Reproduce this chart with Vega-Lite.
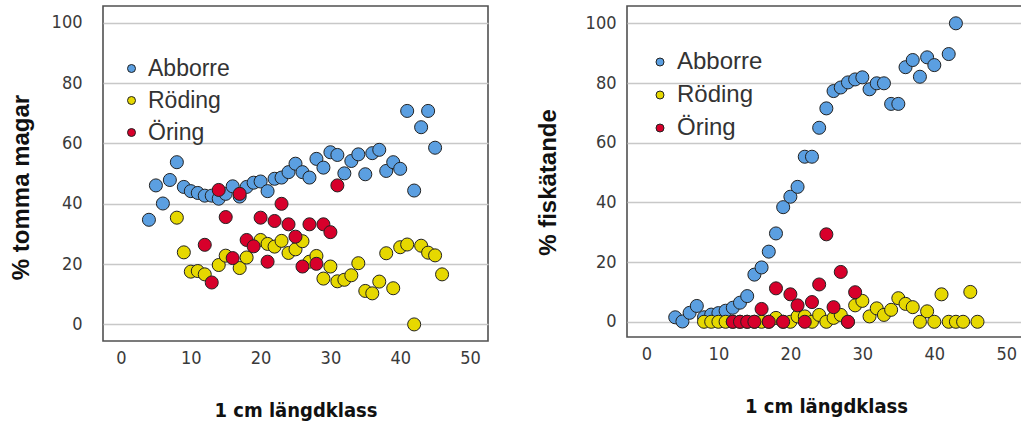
{
  "$schema": "https://vega.github.io/schema/vega-lite/v6.json",
  "background": "white",
  "padding": {"left": 8, "top": 5, "right": 0, "bottom": 0},
  "align": "none",
  "spacing": 46,
  "datasets": {
    "tomma": [
      {"art": "Abborre", "langd": 4, "procent": 34.7},
      {"art": "Abborre", "langd": 5, "procent": 46.1},
      {"art": "Abborre", "langd": 6, "procent": 40.1},
      {"art": "Abborre", "langd": 7, "procent": 47.9},
      {"art": "Abborre", "langd": 8, "procent": 53.8},
      {"art": "Abborre", "langd": 9, "procent": 45.6},
      {"art": "Abborre", "langd": 10, "procent": 44.2},
      {"art": "Abborre", "langd": 11, "procent": 43.6},
      {"art": "Abborre", "langd": 12, "procent": 42.7},
      {"art": "Abborre", "langd": 13, "procent": 42.7},
      {"art": "Abborre", "langd": 14, "procent": 41.7},
      {"art": "Abborre", "langd": 15, "procent": 43.3},
      {"art": "Abborre", "langd": 16, "procent": 45.8},
      {"art": "Abborre", "langd": 17, "procent": 42.4},
      {"art": "Abborre", "langd": 18, "procent": 45.6},
      {"art": "Abborre", "langd": 19, "procent": 47.0},
      {"art": "Abborre", "langd": 20, "procent": 47.4},
      {"art": "Abborre", "langd": 21, "procent": 44.2},
      {"art": "Abborre", "langd": 22, "procent": 48.3},
      {"art": "Abborre", "langd": 23, "procent": 48.7},
      {"art": "Abborre", "langd": 24, "procent": 50.5},
      {"art": "Abborre", "langd": 25, "procent": 53.3},
      {"art": "Abborre", "langd": 26, "procent": 50.5},
      {"art": "Abborre", "langd": 27, "procent": 48.7},
      {"art": "Abborre", "langd": 28, "procent": 54.9},
      {"art": "Abborre", "langd": 29, "procent": 52.0},
      {"art": "Abborre", "langd": 30, "procent": 57.1},
      {"art": "Abborre", "langd": 31, "procent": 56.2},
      {"art": "Abborre", "langd": 32, "procent": 50.1},
      {"art": "Abborre", "langd": 33, "procent": 54.2},
      {"art": "Abborre", "langd": 34, "procent": 56.4},
      {"art": "Abborre", "langd": 35, "procent": 49.8},
      {"art": "Abborre", "langd": 36, "procent": 56.8},
      {"art": "Abborre", "langd": 37, "procent": 57.9},
      {"art": "Abborre", "langd": 38, "procent": 50.9},
      {"art": "Abborre", "langd": 39, "procent": 53.8},
      {"art": "Abborre", "langd": 40, "procent": 51.6},
      {"art": "Abborre", "langd": 41, "procent": 70.8},
      {"art": "Abborre", "langd": 42, "procent": 44.4},
      {"art": "Abborre", "langd": 43, "procent": 65.4},
      {"art": "Abborre", "langd": 44, "procent": 70.8},
      {"art": "Abborre", "langd": 45, "procent": 58.6},
      {"art": "Röding", "langd": 8, "procent": 35.4},
      {"art": "Röding", "langd": 9, "procent": 23.9},
      {"art": "Röding", "langd": 10, "procent": 17.5},
      {"art": "Röding", "langd": 11, "procent": 17.7},
      {"art": "Röding", "langd": 12, "procent": 16.6},
      {"art": "Röding", "langd": 14, "procent": 19.7},
      {"art": "Röding", "langd": 15, "procent": 22.8},
      {"art": "Röding", "langd": 17, "procent": 18.7},
      {"art": "Röding", "langd": 18, "procent": 22.2},
      {"art": "Röding", "langd": 20, "procent": 28.0},
      {"art": "Röding", "langd": 21, "procent": 26.7},
      {"art": "Röding", "langd": 22, "procent": 25.8},
      {"art": "Röding", "langd": 23, "procent": 27.7},
      {"art": "Röding", "langd": 24, "procent": 23.7},
      {"art": "Röding", "langd": 25, "procent": 24.9},
      {"art": "Röding", "langd": 26, "procent": 27.6},
      {"art": "Röding", "langd": 27, "procent": 20.8},
      {"art": "Röding", "langd": 28, "procent": 22.7},
      {"art": "Röding", "langd": 29, "procent": 15.2},
      {"art": "Röding", "langd": 30, "procent": 19.2},
      {"art": "Röding", "langd": 31, "procent": 14.3},
      {"art": "Röding", "langd": 32, "procent": 14.8},
      {"art": "Röding", "langd": 33, "procent": 16.3},
      {"art": "Röding", "langd": 34, "procent": 20.3},
      {"art": "Röding", "langd": 35, "procent": 11.1},
      {"art": "Röding", "langd": 36, "procent": 10.3},
      {"art": "Röding", "langd": 37, "procent": 14.2},
      {"art": "Röding", "langd": 38, "procent": 23.6},
      {"art": "Röding", "langd": 39, "procent": 12.0},
      {"art": "Röding", "langd": 40, "procent": 25.6},
      {"art": "Röding", "langd": 41, "procent": 26.5},
      {"art": "Röding", "langd": 42, "procent": 0},
      {"art": "Röding", "langd": 43, "procent": 26.1},
      {"art": "Röding", "langd": 44, "procent": 23.8},
      {"art": "Röding", "langd": 45, "procent": 22.9},
      {"art": "Röding", "langd": 46, "procent": 16.6},
      {"art": "Öring", "langd": 12, "procent": 26.4},
      {"art": "Öring", "langd": 13, "procent": 13.9},
      {"art": "Öring", "langd": 14, "procent": 44.6},
      {"art": "Öring", "langd": 15, "procent": 35.6},
      {"art": "Öring", "langd": 16, "procent": 22.0},
      {"art": "Öring", "langd": 17, "procent": 43.3},
      {"art": "Öring", "langd": 18, "procent": 28.0},
      {"art": "Öring", "langd": 19, "procent": 25.9},
      {"art": "Öring", "langd": 20, "procent": 35.4},
      {"art": "Öring", "langd": 21, "procent": 20.8},
      {"art": "Öring", "langd": 22, "procent": 34.3},
      {"art": "Öring", "langd": 23, "procent": 40.0},
      {"art": "Öring", "langd": 24, "procent": 33.2},
      {"art": "Öring", "langd": 25, "procent": 29.1},
      {"art": "Öring", "langd": 26, "procent": 19.2},
      {"art": "Öring", "langd": 27, "procent": 33.2},
      {"art": "Öring", "langd": 28, "procent": 20.1},
      {"art": "Öring", "langd": 29, "procent": 33.2},
      {"art": "Öring", "langd": 30, "procent": 30.6},
      {"art": "Öring", "langd": 31, "procent": 46.1}
    ],
    "fisk": [
      {"art": "Abborre", "langd": 4, "procent": 1.5},
      {"art": "Abborre", "langd": 5, "procent": 0.1},
      {"art": "Abborre", "langd": 6, "procent": 3.0},
      {"art": "Abborre", "langd": 7, "procent": 5.3},
      {"art": "Abborre", "langd": 8, "procent": 1.5},
      {"art": "Abborre", "langd": 9, "procent": 2.4},
      {"art": "Abborre", "langd": 10, "procent": 2.9},
      {"art": "Abborre", "langd": 11, "procent": 3.7},
      {"art": "Abborre", "langd": 12, "procent": 4.7},
      {"art": "Abborre", "langd": 13, "procent": 6.4},
      {"art": "Abborre", "langd": 14, "procent": 8.6},
      {"art": "Abborre", "langd": 15, "procent": 15.8},
      {"art": "Abborre", "langd": 16, "procent": 18.2},
      {"art": "Abborre", "langd": 17, "procent": 23.5},
      {"art": "Abborre", "langd": 18, "procent": 29.6},
      {"art": "Abborre", "langd": 19, "procent": 38.4},
      {"art": "Abborre", "langd": 20, "procent": 41.9},
      {"art": "Abborre", "langd": 21, "procent": 45.2},
      {"art": "Abborre", "langd": 22, "procent": 55.3},
      {"art": "Abborre", "langd": 23, "procent": 55.3},
      {"art": "Abborre", "langd": 24, "procent": 65.0},
      {"art": "Abborre", "langd": 25, "procent": 71.5},
      {"art": "Abborre", "langd": 26, "procent": 77.3},
      {"art": "Abborre", "langd": 27, "procent": 78.5},
      {"art": "Abborre", "langd": 28, "procent": 80.2},
      {"art": "Abborre", "langd": 29, "procent": 81.2},
      {"art": "Abborre", "langd": 30, "procent": 81.9},
      {"art": "Abborre", "langd": 31, "procent": 77.9},
      {"art": "Abborre", "langd": 32, "procent": 79.9},
      {"art": "Abborre", "langd": 33, "procent": 79.9},
      {"art": "Abborre", "langd": 34, "procent": 73.0},
      {"art": "Abborre", "langd": 35, "procent": 73.0},
      {"art": "Abborre", "langd": 36, "procent": 85.3},
      {"art": "Abborre", "langd": 37, "procent": 87.7},
      {"art": "Abborre", "langd": 38, "procent": 82.1},
      {"art": "Abborre", "langd": 39, "procent": 88.6},
      {"art": "Abborre", "langd": 40, "procent": 86.0},
      {"art": "Abborre", "langd": 42, "procent": 89.7},
      {"art": "Abborre", "langd": 43, "procent": 100},
      {"art": "Röding", "langd": 8, "procent": 0},
      {"art": "Röding", "langd": 9, "procent": 0},
      {"art": "Röding", "langd": 10, "procent": 0},
      {"art": "Röding", "langd": 11, "procent": 0},
      {"art": "Röding", "langd": 12, "procent": 0},
      {"art": "Röding", "langd": 13, "procent": 0},
      {"art": "Röding", "langd": 14, "procent": 0},
      {"art": "Röding", "langd": 15, "procent": 0},
      {"art": "Röding", "langd": 16, "procent": 0},
      {"art": "Röding", "langd": 17, "procent": 0},
      {"art": "Röding", "langd": 18, "procent": 1.3},
      {"art": "Röding", "langd": 19, "procent": 0},
      {"art": "Röding", "langd": 20, "procent": 0},
      {"art": "Röding", "langd": 21, "procent": 1.8},
      {"art": "Röding", "langd": 22, "procent": 1.8},
      {"art": "Röding", "langd": 23, "procent": 0},
      {"art": "Röding", "langd": 24, "procent": 2.3},
      {"art": "Röding", "langd": 25, "procent": 0},
      {"art": "Röding", "langd": 26, "procent": 1.3},
      {"art": "Röding", "langd": 27, "procent": 2.3},
      {"art": "Röding", "langd": 28, "procent": 0},
      {"art": "Röding", "langd": 29, "procent": 5.5},
      {"art": "Röding", "langd": 30, "procent": 7.0},
      {"art": "Röding", "langd": 31, "procent": 1.8},
      {"art": "Röding", "langd": 32, "procent": 4.5},
      {"art": "Röding", "langd": 33, "procent": 2.3},
      {"art": "Röding", "langd": 34, "procent": 4.0},
      {"art": "Röding", "langd": 35, "procent": 7.9},
      {"art": "Röding", "langd": 36, "procent": 6.0},
      {"art": "Röding", "langd": 37, "procent": 4.9},
      {"art": "Röding", "langd": 38, "procent": 0},
      {"art": "Röding", "langd": 39, "procent": 3.5},
      {"art": "Röding", "langd": 40, "procent": 0},
      {"art": "Röding", "langd": 41, "procent": 9.2},
      {"art": "Röding", "langd": 42, "procent": 0},
      {"art": "Röding", "langd": 43, "procent": 0},
      {"art": "Röding", "langd": 44, "procent": 0},
      {"art": "Röding", "langd": 45, "procent": 10.0},
      {"art": "Röding", "langd": 46, "procent": 0},
      {"art": "Öring", "langd": 12, "procent": 0},
      {"art": "Öring", "langd": 13, "procent": 0},
      {"art": "Öring", "langd": 14, "procent": 0},
      {"art": "Öring", "langd": 15, "procent": 0},
      {"art": "Öring", "langd": 16, "procent": 4.3},
      {"art": "Öring", "langd": 17, "procent": 0},
      {"art": "Öring", "langd": 18, "procent": 11.2},
      {"art": "Öring", "langd": 19, "procent": 0},
      {"art": "Öring", "langd": 20, "procent": 9.2},
      {"art": "Öring", "langd": 21, "procent": 5.5},
      {"art": "Öring", "langd": 22, "procent": 0},
      {"art": "Öring", "langd": 23, "procent": 6.6},
      {"art": "Öring", "langd": 24, "procent": 12.5},
      {"art": "Öring", "langd": 25, "procent": 29.3},
      {"art": "Öring", "langd": 26, "procent": 4.9},
      {"art": "Öring", "langd": 27, "procent": 16.7},
      {"art": "Öring", "langd": 28, "procent": 0},
      {"art": "Öring", "langd": 29, "procent": 9.9}
    ]
  },
  "config": {
    "view": {"stroke": "#505050", "strokeWidth": 1.6},
    "font": "Liberation Sans",
    "axis": {
      "labelFont": "Liberation Sans Narrow, DejaVu Sans Condensed, Liberation Sans",
      "labelFontSize": 18,
      "labelColor": "#3a3a3a",
      "titleColor": "#111111",
      "titleFontWeight": "bold",
      "ticks": false,
      "domain": false
    },
    "axisX": {
      "grid": false,
      "labelPadding": 8,
      "titleFont": "Liberation Sans Narrow, DejaVu Sans Condensed, Liberation Sans",
      "titleFontSize": 20,
      "titlePadding": 33
    },
    "axisY": {
      "grid": true,
      "gridColor": "#c8c8c8",
      "gridWidth": 1.5,
      "titleFontSize": 24,
      "titleAngle": 270
    },
    "legend": {
      "title": null,
      "orient": "none",
      "padding": 0,
      "symbolType": "circle",
      "symbolSize": 64,
      "symbolStrokeColor": "#222222",
      "symbolStrokeWidth": 1,
      "labelColor": "#333333",
      "labelOffset": 5
    }
  },
  "resolve": {
    "scale": {"x": "independent", "y": "independent"},
    "legend": {"color": "independent"}
  },
  "hconcat": [
    {
      "width": 385,
      "height": 335,
      "data": {"name": "tomma"},
      "mark": {"type": "point", "filled": true, "opacity": 1, "size": 170, "stroke": "#222222", "strokeWidth": 1},
      "encoding": {
        "x": {
          "field": "langd", "type": "quantitative",
          "scale": {"domain": [-2.58, 52.58], "nice": false, "zero": false},
          "axis": {"title": "1 cm längdklass", "values": [0, 10, 20, 30, 40, 50]}
        },
        "y": {
          "field": "procent", "type": "quantitative",
          "scale": {"domain": [-5.5, 105.6], "nice": false, "zero": false},
          "axis": {"title": "% tomma magar", "values": [0, 20, 40, 60, 80, 100], "labelPadding": 21, "titleX": -70, "titleY": 181}
        },
        "color": {
          "field": "art", "type": "nominal",
          "scale": {"domain": ["Abborre", "Röding", "Öring"], "range": ["#5b9fe1", "#e6d800", "#d7002b"]},
          "legend": {"legendX": 17, "legendY": 51, "labelFontSize": 23, "rowPadding": 8}
        }
      }
    },
    {
      "width": 398,
      "height": 331,
      "data": {"name": "fisk"},
      "mark": {"type": "point", "filled": true, "opacity": 1, "size": 170, "stroke": "#222222", "strokeWidth": 1},
      "encoding": {
        "x": {
          "field": "langd", "type": "quantitative",
          "scale": {"domain": [-2.7, 52.6], "nice": false, "zero": false},
          "axis": {"title": "1 cm längdklass", "values": [0, 10, 20, 30, 40, 50]}
        },
        "y": {
          "field": "procent", "type": "quantitative",
          "scale": {"domain": [-5.1, 105.8], "nice": false, "zero": false},
          "axis": {"title": "% fiskätande", "values": [0, 20, 40, 60, 80, 100], "labelPadding": 11, "titleX": -67, "titleY": 176}
        },
        "color": {
          "field": "art", "type": "nominal",
          "scale": {"domain": ["Abborre", "Röding", "Öring"], "range": ["#5b9fe1", "#e6d800", "#d7002b"]},
          "legend": {"legendX": 21, "legendY": 44, "labelFontSize": 24, "rowPadding": 9}
        }
      }
    }
  ]
}
